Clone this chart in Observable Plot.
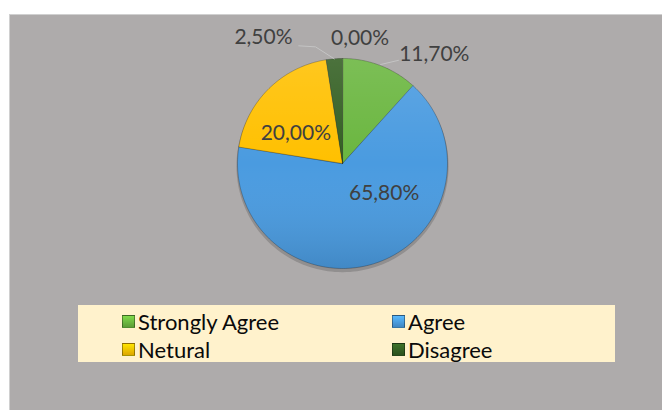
<!DOCTYPE html>
<html><head><meta charset="utf-8">
<script src="https://cdn.jsdelivr.net/npm/d3@7"></script>
<script src="https://cdn.jsdelivr.net/npm/@observablehq/plot@0.6"></script>
<style>
body{margin:0;background:#fff;}
#wrap{position:relative;width:662px;height:410px;overflow:hidden;font-family:Lato,"Open Sans",sans-serif;}
#panel{position:absolute;left:9px;top:14px;right:0;bottom:0;background:#aeabab;border-top:1px solid #d0d0d0;border-left:1px solid #d0d0d0;}
#chart{position:absolute;left:0;top:0;}
#legend{position:absolute;left:78px;top:305px;width:537px;height:57px;background:#fff2cc;}
.item{position:absolute;display:flex;align-items:center;font-size:22px;color:#0a0a0a;white-space:nowrap;height:26px;}
.sw{display:inline-block;width:13px;height:13px;margin-right:3px;border:1px solid rgba(0,0,0,0.35);box-sizing:border-box;}
</style>
</head><body>
<div id="wrap"><div id="panel"></div><div id="chart"></div><div id="legend"></div></div>
<script>
// ---- data ----
const categories = ["Strongly Agree", "Agree", "Netural", "Disagree", "Strongly Disagree"];
const values = [11.7, 65.8, 20.0, 2.5, 0.0];
const valueLabels = ["11,70%", "65,80%", "20,00%", "2,50%", "0,00%"];
const colors = ["#6ab63f", "#4a9be0", "#ffc000", "#335f22", "#a0a0a0"];
const legendCategories = ["Strongly Agree", "Agree", "Netural", "Disagree"];

// ---- layout (not data) ----
const cx = 342, cy = 163, r = 105;
const labelPolar = [[1.36, 40], [0.49, 126], [0.53, 303], [1.42, 328], [1.2, 8]]; // [radius factor, angle deg]

const arcs = d3.pie().sort(null).value(d => d)(values);
const pts = [];
arcs.forEach((a, i) => {
  if (a.endAngle - a.startAngle <= 0) return;
  pts.push({name: categories[i], x: 0, y: 0});
  const n = Math.max(4, Math.ceil((a.endAngle - a.startAngle) / 0.02));
  for (let k = 0; k <= n; k++) {
    const t = a.startAngle + (a.endAngle - a.startAngle) * k / n;
    pts.push({name: categories[i], x: Math.sin(t), y: Math.cos(t)});
  }
});
const circle = d3.range(0, 181).map(k => ({x: Math.sin(k / 180 * 2 * Math.PI), y: Math.cos(k / 180 * 2 * Math.PI)}));
const labelData = valueLabels.map((t, i) => {
  const [f, deg] = labelPolar[i];
  const a = deg * Math.PI / 180;
  return {text: t, x: f * Math.sin(a), y: f * Math.cos(a)};
});
// leader lines
const mid = i => (arcs[i].startAngle + arcs[i].endAngle) / 2;
const leaders = [
  {id: "d", x: Math.sin(mid(3)), y: Math.cos(mid(3))},
  {id: "d", x: 1.14 * Math.sin(-13 * Math.PI / 180), y: 1.14 * Math.cos(-13 * Math.PI / 180)},
  {id: "d", x: 1.14 * Math.sin(-13 * Math.PI / 180) - 0.16, y: 1.14 * Math.cos(-13 * Math.PI / 180) + 0.01},
  {id: "s", x: 1.01 * Math.sin(mid(0)), y: 1.01 * Math.cos(mid(0))},
  {id: "s", x: 1.01 * Math.sin(mid(0)) + 0.17, y: 1.01 * Math.cos(mid(0)) + 0.04}
];

const chart = Plot.plot({
  width: 662, height: 410, margin: 0,
  style: {background: "transparent", fontFamily: "Lato, 'Open Sans', sans-serif"},
  x: {domain: [-1, 1], range: [cx - r, cx + r], axis: null},
  y: {domain: [-1, 1], range: [cy + r, cy - r], axis: null},
  color: {domain: categories, range: colors},
  marks: [
    Plot.line(circle, {x: d => d.x * 1.01, y: d => d.y * 1.01 - 0.025, curve: "linear-closed", fill: "rgba(60,60,60,0.25)", stroke: "none"}),
    Plot.line(pts, {x: "x", y: "y", z: "name", fill: "name", stroke: "rgba(0,0,0,0.3)", strokeWidth: 0.8, curve: "linear-closed"}),
    Plot.line(circle, {x: "x", y: "y", curve: "linear-closed", fill: "url(#shade)", stroke: "none"}),
    Plot.line(leaders, {x: "x", y: "y", z: "id", stroke: "#c4c4c4", strokeWidth: 1}),
    Plot.text(labelData, {x: "x", y: "y", text: "text", fill: "#404040", fontSize: 21})
  ]
});
const defs = document.createElementNS("http://www.w3.org/2000/svg", "defs");
defs.innerHTML = `<linearGradient id="shade" x1="0" y1="0" x2="0" y2="1">
  <stop offset="0" stop-color="#fff" stop-opacity="0.12"/>
  <stop offset="0.5" stop-color="#fff" stop-opacity="0"/>
  <stop offset="1" stop-color="#000" stop-opacity="0.12"/></linearGradient>`;
chart.insertBefore(defs, chart.firstChild);
document.getElementById("chart").appendChild(chart);

// legend
const legend = document.getElementById("legend");
const pos = [[44, 3], [314, 3], [44, 31], [314, 31]];
legendCategories.forEach((c, i) => {
  const d = document.createElement("div");
  d.className = "item";
  d.style.left = pos[i][0] + "px";
  d.style.top = pos[i][1] + "px";
  const col = colors[categories.indexOf(c)];
  d.innerHTML = `<span class="sw" style="background:linear-gradient(${d3.color(col).brighter(0.5)},${d3.color(col).darker(0.4)})"></span>${c}`;
  legend.appendChild(d);
});
</script>
</body></html>
